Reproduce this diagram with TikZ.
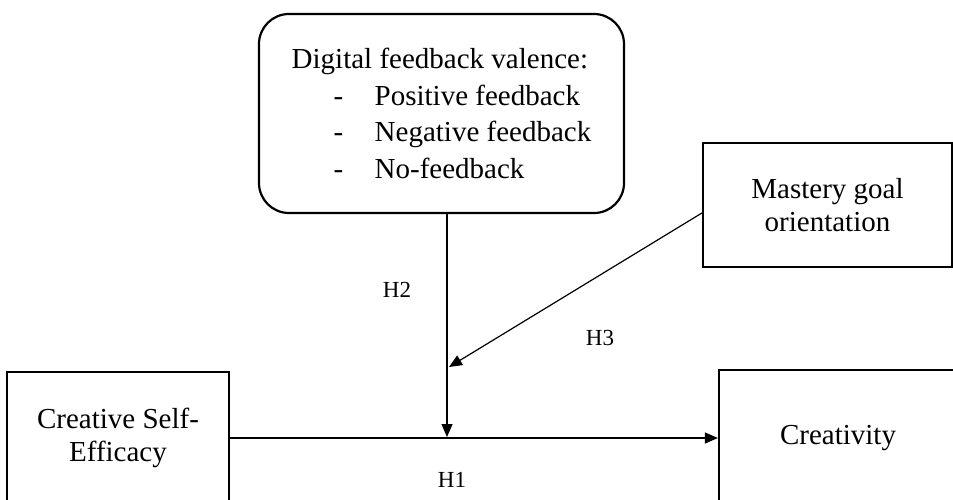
\documentclass[tikz,border=0pt]{standalone}
\usepackage{fontspec}
\setmainfont{Liberation Serif}
\usetikzlibrary{arrows.meta}
\begin{document}
\begin{tikzpicture}[x=0.5pt,y=-0.5pt,
    box/.style={draw,line width=1.1pt,inner sep=0pt,align=center,
        font=\fontsize{14.5}{16.8}\selectfont},
    link/.style={line width=0.6pt,-{Triangle[length=6.5pt,width=5.5pt]}},
    hyp/.style={font=\fontsize{11.5}{14}\selectfont}]
    \clip (0,0) rectangle (953,499);
    \node [box,rounded corners=15pt,minimum width=182.5pt,minimum height=99.5pt,
        align=left,font=\fontsize{14.5}{18.3}\selectfont] (fb) at (441.5,113.5)
        {Digital feedback valence:\\
         \hspace*{21pt}\makebox[20.5pt][l]{-}Positive feedback\\
         \hspace*{21pt}\makebox[20.5pt][l]{-}Negative feedback\\
         \hspace*{21pt}\makebox[20.5pt][l]{-}No-feedback};
    \node [box,minimum width=124.5pt,minimum height=62pt] (mgo) at (827.5,205)
        {Mastery goal\\orientation};
    \node [box,minimum width=111pt,minimum height=66pt] (cse) at (118,438)
        {Creative Self-\\Efficacy};
    \node [box,minimum width=119pt,minimum height=68pt] (crt) at (838,438)
        {Creativity};
    \coordinate (join) at (447,437);
    \coordinate (hit) at (449,367);
    \draw [link] (cse.east) -- (cse.east -| crt.west);
    \draw [link] (fb.south -| join) -- (join);
    \draw [link] ([yshift=-4pt]mgo.west) -- (hit);
    \node [hyp] (h1) at (452,480) {H1};
    \node [hyp] (h2) at (397,290) {H2};
    \node [hyp] (h3) at (600,338) {H3};
\end{tikzpicture}
\end{document}
